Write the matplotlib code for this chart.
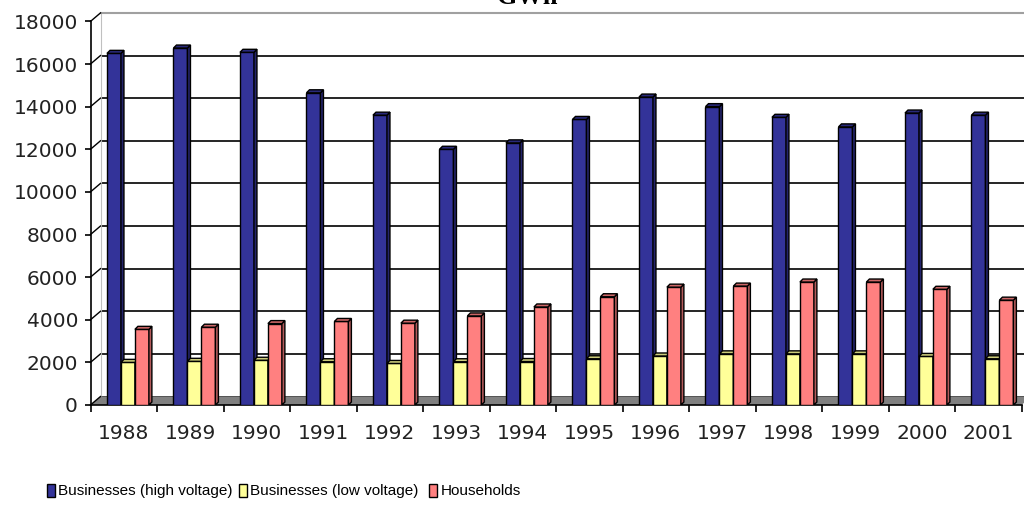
import matplotlib
matplotlib.use("Agg")
import matplotlib.pyplot as plt
import numpy as np
from matplotlib.patches import Polygon
from matplotlib.lines import Line2D
import matplotlib.colors as mcolors

years = ["1988", "1989", "1990", "1991", "1992", "1993", "1994",
         "1995", "1996", "1997", "1998", "1999", "2000", "2001"]
high_voltage = [16500, 16750, 16550, 14650, 13600, 12000, 12300,
                13400, 14450, 14000, 13500, 13050, 13700, 13600]
low_voltage = [2000, 2050, 2100, 2030, 1950, 2030, 2040,
               2170, 2300, 2400, 2400, 2400, 2280, 2170]
households = [3550, 3650, 3820, 3920, 3840, 4180, 4600,
              5080, 5530, 5580, 5770, 5770, 5430, 4920]
series_names = ["Businesses (high voltage)", "Businesses (low voltage)", "Households"]
colors = ["#333399", "#FFFF99", "#FF8080"]
yticks = np.arange(0, 18001, 2000)

W, H = 1024, 513
fig = plt.figure(figsize=(W / 100, H / 100), dpi=100)
fig.patch.set_facecolor("white")

# front plane (axis, bars) and back wall (gridlines), offset for the 3D look
front_box = [90.5 / W, (H - 405) / H, 931 / W, 383.6 / H]
dx_px, dy_px = 10, 8.5
wall_box = [front_box[0] + dx_px / W, front_box[1] + dy_px / H, front_box[2], front_box[3]]

wall = fig.add_axes(wall_box, zorder=0)
ax = fig.add_axes(front_box, zorder=2)

n = len(years)
x = np.arange(n)
for a in (wall, ax):
    a.set_xlim(-0.5, n - 0.5)
    a.set_ylim(0, 18000)

wall.set_yticks(yticks)
wall.grid(axis="y", color="black", lw=1.2)
wall.set_xticks([])
wall.tick_params(axis="y", length=0, labelleft=False)
for s in ("right", "bottom"):
    wall.spines[s].set_visible(False)
wall.spines["top"].set_color("#a0a0a0")
wall.spines["top"].set_linewidth(1.5)
wall.spines["left"].set_color("#c0c0c0")
wall.set_axisbelow(True)

ax.patch.set_visible(False)
for s in ("right", "top"):
    ax.spines[s].set_visible(False)
ax.spines["left"].set_linewidth(1.2)
ax.spines["bottom"].set_linewidth(1.2)
ax.set_yticks(yticks)
ax.set_yticklabels([str(v) for v in yticks])
ax.set_xticks(x)
ax.set_xticklabels(years)
ax.set_xticks(np.arange(n + 1) - 0.5, minor=True)
ax.tick_params(axis="x", which="major", length=0, pad=14)
ax.tick_params(axis="x", which="minor", length=5, width=1.2)
ax.tick_params(axis="y", length=4, width=1.2, pad=5)
for lab in ax.get_xticklabels() + ax.get_yticklabels():
    lab.set_fontfamily("DejaVu Sans")
    lab.set_fontsize(14.5)
    lab.set_color("#222222")

# bars with a side and top face
w = 0.21
offsets = [-0.252, -0.042, 0.168]
ddx = 3 / 66.5
ddy = 3 / (383.6 / 18000)


def darker(c, f):
    r, g, b = mcolors.to_rgb(c)
    return (r * f, g * f, b * f)


for i in range(n):
    for k, vals in enumerate([high_voltage, low_voltage, households]):
        v = vals[i]
        x0 = x[i] + offsets[k]
        x1 = x0 + w
        ax.bar(x0, v, width=w, align="edge", color=colors[k],
               edgecolor="black", lw=1.0, zorder=3)
        side = Polygon([(x1, 0), (x1 + ddx, ddy), (x1 + ddx, v + ddy), (x1, v)],
                       closed=True, facecolor=darker(colors[k], 0.7),
                       edgecolor="black", lw=1.0, zorder=3)
        top = Polygon([(x0, v), (x0 + ddx, v + ddy), (x1 + ddx, v + ddy), (x1, v)],
                      closed=True, facecolor=darker(colors[k], 0.8),
                      edgecolor="black", lw=1.0, zorder=3)
        ax.add_patch(side)
        ax.add_patch(top)

# floor and left-wall gridlines, placed through both axes' transforms
to_fig = fig.transFigure.inverted()
fl = to_fig.transform(ax.transData.transform((-0.5, 0)))
fr = to_fig.transform(ax.transData.transform((n - 0.5, 0)))
bl = to_fig.transform(wall.transData.transform((-0.5, 0)))
br = to_fig.transform(wall.transData.transform((n - 0.5, 0)))
floor = Polygon([fl, fr, br, bl], closed=True, facecolor="#808080",
                edgecolor="none", transform=fig.transFigure, zorder=1)
fig.add_artist(floor)

for v in yticks:
    p0 = to_fig.transform(ax.transData.transform((-0.5, v)))
    p1 = to_fig.transform(wall.transData.transform((-0.5, v)))
    fig.add_artist(Line2D([p0[0], p1[0]], [p0[1], p1[1]], color="black",
                          lw=1.0, transform=fig.transFigure, zorder=3))

fig.text(527 / W, 1 - 4 / H, "GWh", ha="center", va="baseline",
         fontfamily="Liberation Serif", fontweight="bold", fontsize=19)

# one legend per series, spaced along the bottom
legend_x = [47, 239, 429]
for c, name, lx in zip(colors, series_names, legend_x):
    handle = plt.Rectangle((0, 0), 1, 1, facecolor=c, edgecolor="black", lw=1.0)
    leg = fig.legend([handle], [name], loc="center left",
                     bbox_to_anchor=(lx / W, 1 - 491 / H), frameon=False,
                     prop={"family": "Liberation Sans", "size": 11},
                     handlelength=0.55, handleheight=0.95, handletextpad=0.2,
                     borderaxespad=0, borderpad=0)

fig.savefig("out.png", dpi=100, facecolor="white")
